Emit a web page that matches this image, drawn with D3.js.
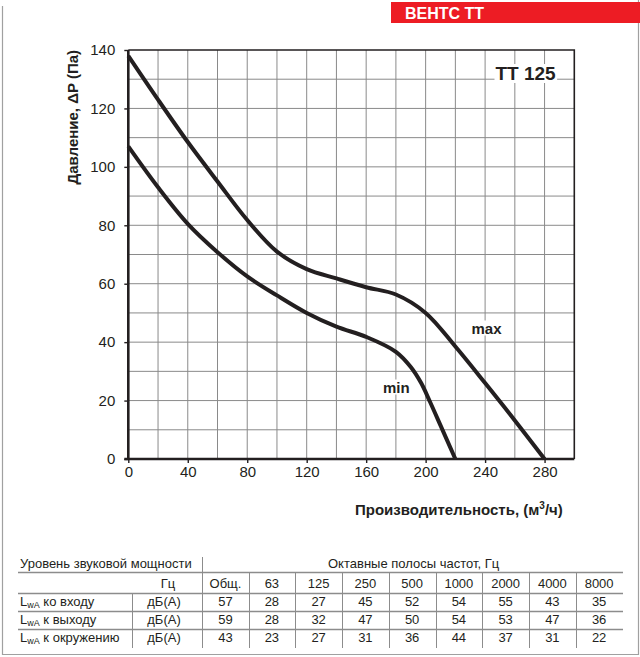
<!DOCTYPE html>
<html><head><meta charset="utf-8">
<script src="https://cdn.jsdelivr.net/npm/d3@7"></script>
<style>body{margin:0;background:#fff}svg{display:block;font-family:"Liberation Sans",Arial,sans-serif}</style>
</head><body>
<script>
// ---- data ----
const xTicks = [0,40,80,120,160,200,240,280];
const yTicks = [0,20,40,60,80,100,120,140];
const maxFlow = [0,20,40,60,80,100,120,140,160,180,200,220,240,260,280];
const maxPres = [138,123,108.5,95,81.8,71,65,61.8,58.8,56.3,50,38.5,26,13.2,0];
const minFlow = [0,20,40,60,80,100,120,140,160,180,190,197,203,210,220];
const minPres = [107,93,80.5,70.8,62.5,56,50,45.3,41.8,36.7,31.5,26,19.5,11.5,0];
const freqHeaders = ["Общ.","63","125","250","500","1000","2000","4000","8000"];
const rowLabels = ["ко входу","к выходу","к окружению"];
const rowInlet = [57,28,27,45,52,54,55,43,35];
const rowOutlet = [59,28,32,47,50,54,53,47,36];
const rowAround = [43,23,27,31,36,44,37,31,22];

const W=640,H=657;
const svg=d3.select("body").append("svg").attr("width",W).attr("height",H);
const ink="#231f20";

// frame
svg.append("path").attr("d","M2.5,6V654.5H638.5V0").attr("fill","none").attr("stroke","#a0a0a0").attr("stroke-width",1.2);
// red header
svg.append("rect").attr("x",391).attr("y",2).attr("width",249).attr("height",21).attr("fill","#ed1c24");
svg.append("text").attr("x",405).attr("y",19).attr("fill","#fff").attr("font-weight","bold").attr("font-size",16).text("ВЕНТС ТТ");

// chart
const x=d3.scaleLinear().domain([0,300]).range([128.3,574.3]);
const y=d3.scaleLinear().domain([0,140]).range([459,50]);
const g=svg.append("g");
// grid
g.selectAll(".vg").data(d3.range(20,300,20)).enter().append("line")
 .attr("x1",d=>x(d)).attr("x2",d=>x(d)).attr("y1",y(0)).attr("y2",y(140))
 .attr("stroke","#8a8a8a").attr("stroke-width",1);
g.selectAll(".hg").data(d3.range(10,140,10)).enter().append("line")
 .attr("y1",d=>y(d)).attr("y2",d=>y(d)).attr("x1",x(0)).attr("x2",x(300))
 .attr("stroke","#8a8a8a").attr("stroke-width",1);
// border top/right
g.append("path").attr("d",`M${x(0)},${y(140)}H${x(300)}V${y(0)}`).attr("fill","none").attr("stroke",ink).attr("stroke-width",1.6);

// axes
const xAxis=d3.axisBottom(x).tickValues(xTicks).tickSize(4).tickPadding(3);
const yAxis=d3.axisLeft(y).tickValues(yTicks).tickSize(4).tickPadding(9);
const xa=g.append("g").attr("transform",`translate(0,${y(0)})`).call(xAxis);
const ya=g.append("g").attr("transform",`translate(${x(0)},0)`).call(yAxis);
[xa,ya].forEach(a=>{
  a.select(".domain").attr("stroke",ink).attr("stroke-width",2.6);
  a.selectAll(".tick line").attr("stroke",ink).attr("stroke-width",1.4);
  a.selectAll(".tick text").attr("fill",ink).attr("font-size",15).attr("font-family","Liberation Sans, Arial, sans-serif");
});
xa.select(".domain").attr("d",`M${x(0)-4},0H${x(300)}`);
ya.select(".domain").attr("d",`M0,${y(140)}V${y(0)}`);

// curves
const line=d3.line().x(d=>x(d[0])).y(d=>y(d[1])).curve(d3.curveCatmullRom.alpha(0.5));
const maxData=maxFlow.map((f,i)=>[f,maxPres[i]]);
const minData=minFlow.map((f,i)=>[f,minPres[i]]);
[maxData,minData].forEach(d=>g.append("path").datum(d).attr("d",line).attr("fill","none")
  .attr("stroke",ink).attr("stroke-width",4).attr("stroke-linejoin","round"));

// labels with white background
function bgLabel(tx,ty,str,size){
  const t=g.append("text").attr("x",tx).attr("y",ty).attr("font-weight","bold").attr("font-size",size).attr("fill",ink).text(str);
  const b=t.node().getBBox();
  g.insert("rect",()=>t.node()).attr("x",b.x-1).attr("y",b.y+1).attr("width",b.width+2).attr("height",b.height-2).attr("fill","#fff");
}
bgLabel(495.5,80,"TT 125",19);
bgLabel(471.5,333.5,"max",15);
bgLabel(383,392.5,"min",15);

// axis titles
svg.append("text").attr("transform","translate(78,50) rotate(-90)").attr("text-anchor","end")
 .attr("font-weight","bold").attr("font-size",15).attr("fill",ink).text("Давление, ΔP (Па)");
const xt=svg.append("text").attr("x",355).attr("y",515).attr("font-weight","bold").attr("font-size",15).attr("fill",ink);
xt.append("tspan").text("Производительность, (м");
xt.append("tspan").attr("dy",-6).attr("font-size",10).text("3");
xt.append("tspan").attr("dy",6).text("/ч)");

// ---- table ----
const tg=svg.append("g").attr("font-size",13).attr("fill",ink);
const lc="#8c8c8c";
const col=d3.scaleBand().domain(freqHeaders.slice(1)).range([248.5,622.5]);
const colX=i=> i===0 ? 225.5 : col(freqHeaders[i])+col.bandwidth()/2;
const rowsY=[588,606,624,642];
[572.5,593.5,611.5,629.5].forEach(yy=>tg.append("line").attr("x1",18).attr("x2",623).attr("y1",yy).attr("y2",yy).attr("stroke",lc).attr("stroke-width",1.3));
tg.append("line").attr("x1",202.5).attr("x2",202.5).attr("y1",557).attr("y2",648).attr("stroke",lc);
tg.append("line").attr("x1",132.5).attr("x2",132.5).attr("y1",594).attr("y2",648).attr("stroke",lc);
freqHeaders.slice(1).forEach(h=>{const xx=Math.round(col(h))+0.5;
  tg.append("line").attr("x1",xx).attr("x2",xx).attr("y1",573).attr("y2",648).attr("stroke",lc);});
tg.append("text").attr("x",20).attr("y",568).text("Уровень звуковой мощности");
tg.append("text").attr("x",328).attr("y",568).text("Октавные полосы частот, Гц");
tg.append("text").attr("x",168).attr("y",rowsY[0]).attr("text-anchor","middle").text("Гц");
freqHeaders.forEach((h,i)=>tg.append("text").attr("x",colX(i)).attr("y",rowsY[0]).attr("text-anchor","middle").text(h));
[rowInlet,rowOutlet,rowAround].forEach((vals,r)=>{
  const yy=rowsY[r+1];
  const t=tg.append("text").attr("x",20).attr("y",yy);
  t.append("tspan").text("L");
  t.append("tspan").attr("dy",2).attr("font-size",9).text("wA");
  t.append("tspan").attr("dy",-2).text(" "+rowLabels[r]);
  tg.append("text").attr("x",164).attr("y",yy).attr("text-anchor","middle").text("дБ(А)");
  vals.forEach((v,i)=>tg.append("text").attr("x",colX(i)).attr("y",yy).attr("text-anchor","middle").text(v));
});
</script>
</body></html>
